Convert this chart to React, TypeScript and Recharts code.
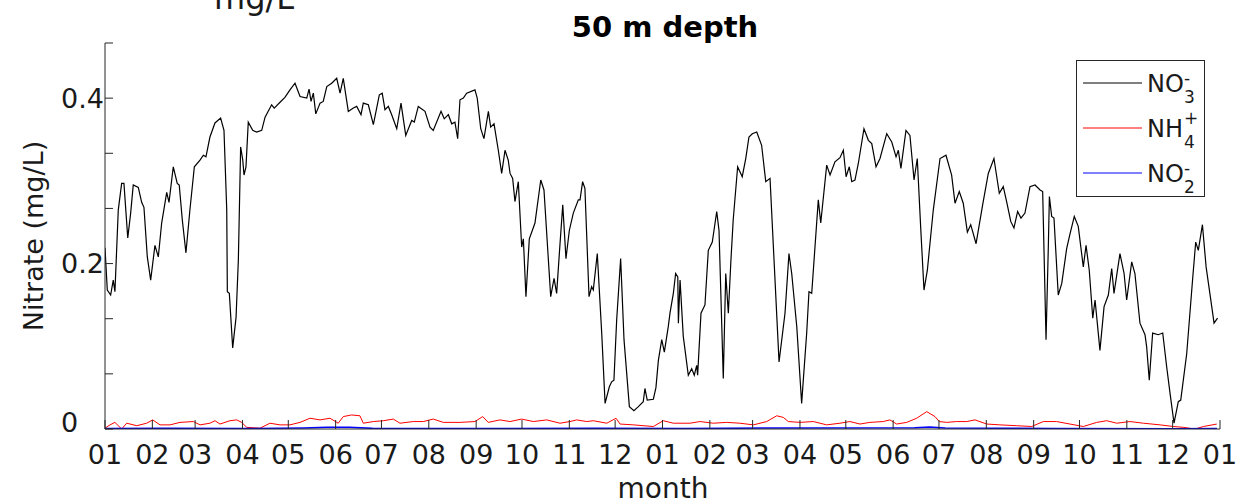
import React from 'react';
import { LineChart, Line, XAxis, YAxis } from 'recharts';

// two years of daily data, ticks at the first day of each month
const monthLabels = ['01', '02', '03', '04', '05', '06', '07', '08', '09', '10', '11', '12'];
const monthLengths = [31, 28, 31, 30, 31, 30, 31, 31, 30, 31, 30, 31];
const yTicks = [0, 1 / 15, 2 / 15, 3 / 15, 4 / 15, 5 / 15, 6 / 15, 7 / 15];

// [day, mg/L]
const no3Points: [number, number][] = [
  [0, 0.219], [1.5, 0.168], [3.7, 0.162], [5.4, 0.18], [6.5, 0.166], [8.7, 0.265], [10.9, 0.297], [12.4, 0.297],
  [14.9, 0.231], [16.8, 0.261], [18.5, 0.295], [21.8, 0.292], [24, 0.274], [25.5, 0.268], [27.7, 0.208], [29.9, 0.18],
  [32.7, 0.222], [34.9, 0.208], [37.1, 0.249], [40.4, 0.286], [41.9, 0.274], [44.7, 0.317], [47.3, 0.297], [48.6, 0.295],
  [50.6, 0.253], [53, 0.213], [55.6, 0.265], [58.5, 0.317], [62.2, 0.325], [64.4, 0.331], [66.1, 0.329], [68.7, 0.353],
  [72, 0.37], [75.7, 0.376], [77.9, 0.361], [79.7, 0.265], [80.1, 0.166], [81.4, 0.164], [83.6, 0.098], [85.8, 0.135],
  [87.3, 0.204], [88.8, 0.341], [90.2, 0.325], [91, 0.307], [92.3, 0.317], [93.8, 0.371], [96.7, 0.361], [99.3, 0.359],
  [102.6, 0.361], [104.8, 0.377], [109.1, 0.392], [110.8, 0.388], [114.6, 0.395], [117.8, 0.401], [121.1, 0.41], [124.4, 0.418],
  [127.7, 0.402], [132.1, 0.4], [133.6, 0.411], [134.9, 0.396], [136.4, 0.406], [138, 0.381], [140.8, 0.394], [142.9, 0.396],
  [145.2, 0.414], [148.4, 0.418], [151.7, 0.424], [153.9, 0.406], [156, 0.424], [159.3, 0.384], [162.6, 0.388], [164.8, 0.39],
  [167.6, 0.38], [169.1, 0.394], [172.4, 0.392], [175.7, 0.368], [179.6, 0.404], [181.5, 0.406], [183.3, 0.386], [185.5, 0.39],
  [187.7, 0.38], [191, 0.363], [193.8, 0.394], [196.9, 0.355], [200.8, 0.373], [202.5, 0.371], [205.1, 0.39], [209.5, 0.384],
  [212.8, 0.365], [214.9, 0.361], [220, 0.384], [222.1, 0.375], [224.8, 0.38], [227, 0.369], [229.1, 0.371], [230.9, 0.351],
  [232.4, 0.398], [234.6, 0.4], [236.8, 0.406], [242.2, 0.41], [243.7, 0.4], [246, 0.363], [248.1, 0.351], [251, 0.384],
  [252.5, 0.365], [254.7, 0.369], [257.5, 0.337], [259.7, 0.309], [261.9, 0.337], [264, 0.325], [265.2, 0.309], [266.9, 0.303],
  [268.4, 0.275], [270.6, 0.299], [272.8, 0.22], [273.9, 0.23], [275.6, 0.16], [277.8, 0.23], [281.5, 0.249], [285.3, 0.301],
  [287.4, 0.289], [291.8, 0.16], [294, 0.182], [295.7, 0.164], [297.9, 0.224], [299.7, 0.271], [301.8, 0.206], [304, 0.24],
  [306.6, 0.261], [309.9, 0.277], [311, 0.277], [312.7, 0.299], [314.2, 0.291], [316.9, 0.16], [318.6, 0.172], [319.7, 0.168],
  [322.3, 0.212], [325.2, 0.116], [327.4, 0.031], [330.2, 0.051], [331.7, 0.057], [333.2, 0.059], [335, 0.132], [337.6, 0.206],
  [339.8, 0.108], [343.3, 0.027], [346.3, 0.022], [349.2, 0.027], [352.4, 0.033], [353.5, 0.049], [355, 0.035], [359, 0.036],
  [360.7, 0.05], [362.3, 0.083], [364.5, 0.108], [366.2, 0.093], [368.8, 0.124], [369.9, 0.14], [372.1, 0.164], [373.6, 0.188],
  [375, 0.184], [375.4, 0.128], [376.5, 0.18], [378.6, 0.112], [381.9, 0.065], [384.1, 0.073], [385.8, 0.065], [387.4, 0.077],
  [388, 0.065], [390.2, 0.14], [392.8, 0.15], [395, 0.216], [397.6, 0.226], [400.5, 0.263], [402, 0.24], [404.8, 0.061],
  [406.4, 0.188], [408.1, 0.14], [409.8, 0.204], [411.3, 0.253], [414.2, 0.317], [417.2, 0.305], [419.5, 0.327], [421.6, 0.353],
  [423.8, 0.357], [426.7, 0.359], [429.9, 0.343], [432.6, 0.299], [435.4, 0.303], [441.3, 0.081], [445.2, 0.14], [447.8, 0.212],
  [449.6, 0.188], [452.9, 0.124], [456.1, 0.031], [459.4, 0.116], [460.9, 0.166], [462.7, 0.164], [467, 0.277], [468.6, 0.249],
  [472.5, 0.319], [474.7, 0.307], [477.9, 0.323], [481.2, 0.328], [483.4, 0.337], [485.2, 0.305], [487.3, 0.317], [488.9, 0.299],
  [491, 0.301], [493.2, 0.321], [496.9, 0.363], [499.8, 0.349], [502, 0.345], [504.8, 0.317], [507.4, 0.327], [511.8, 0.357],
  [515.1, 0.347], [517.9, 0.329], [519.4, 0.337], [521.1, 0.315], [524.4, 0.361], [527, 0.355], [529.7, 0.301], [531.8, 0.327],
  [534, 0.245], [536.2, 0.168], [538.4, 0.192], [542.3, 0.265], [546.7, 0.327], [550.6, 0.331], [554.3, 0.307], [556.5, 0.273],
  [559.3, 0.287], [561.9, 0.273], [564.6, 0.238], [566.8, 0.247], [570.3, 0.224], [574.6, 0.271], [578.3, 0.309], [582, 0.327],
  [585.5, 0.285], [588.1, 0.293], [590.3, 0.275], [593, 0.251], [595.1, 0.243], [597.5, 0.263], [599.7, 0.255], [602.3, 0.261],
  [605.6, 0.293], [608.9, 0.295], [612.2, 0.289], [613.9, 0.287], [616.1, 0.108], [617.6, 0.22], [618.3, 0.281], [619.8, 0.257],
  [621.3, 0.255], [624.1, 0.162], [626.4, 0.176], [629.6, 0.218], [631.8, 0.236], [634.6, 0.257], [637.2, 0.245], [640.5, 0.196],
  [642.3, 0.222], [644.4, 0.192], [646.7, 0.134], [648.2, 0.156], [651.4, 0.095], [654.1, 0.148], [656.9, 0.162], [659.1, 0.194],
  [660.6, 0.164], [664.5, 0.212], [667.2, 0.188], [668.9, 0.156], [672.2, 0.202], [674.3, 0.188], [677.6, 0.128], [680.9, 0.114],
  [682, 0.099], [683.7, 0.059], [685.9, 0.116], [689.6, 0.114], [692.5, 0.116], [695.1, 0.075], [697.3, 0.043], [699.9, 0.007],
  [702.7, 0.033], [704.3, 0.035], [708.2, 0.091], [712.2, 0.184], [714.1, 0.226], [715.8, 0.216], [718.5, 0.247], [720.9, 0.196],
  [724.6, 0.148], [726.1, 0.128], [728.4, 0.134],
];

const nh4Points: [number, number][] = [
  [0, 0.001], [3.3, 0.005], [6.5, 0.008], [10.9, 0.0], [14.2, 0.007], [20.8, 0.004], [27.3, 0.007], [31.2, 0.011],
  [36, 0.005], [42.6, 0.005], [49.1, 0.008], [57.8, 0.009], [62.2, 0.005], [68.7, 0.007], [72, 0.01], [75.3, 0.006],
  [81.8, 0.01], [86.2, 0.011], [89.5, 0.008], [92.8, 0.002], [101.5, 0.001], [108, 0.007], [114.6, 0.005], [121.1, 0.005],
  [127.7, 0.008], [134.2, 0.013], [140.8, 0.011], [147.3, 0.013], [152.7, 0.007], [156, 0.015], [161.5, 0.017], [166.9, 0.016],
  [169.1, 0.007], [175.7, 0.009], [182.2, 0.01], [188.8, 0.012], [193.1, 0.007], [201.8, 0.009], [208.4, 0.009], [214.9, 0.012],
  [221.5, 0.008], [232.4, 0.008], [242.2, 0.009], [247.3, 0.015], [250.9, 0.008], [258.6, 0.011], [265.2, 0.009], [272.8, 0.012],
  [280.4, 0.009], [289.2, 0.011], [297.9, 0.007], [304.4, 0.009], [308.8, 0.011], [315.4, 0.009], [319.7, 0.01], [328.5, 0.007],
  [334.6, 0.013], [337.2, 0.006], [345.9, 0.005], [359, 0.003], [365.5, 0.01], [372.1, 0.007], [383, 0.007], [389.6, 0.009],
  [398.3, 0.007], [407, 0.008], [415.7, 0.007], [424.5, 0.005], [433.2, 0.009], [439.8, 0.016], [444.1, 0.014], [447.4, 0.009],
  [455, 0.008], [463.7, 0.009], [472.5, 0.005], [481.2, 0.007], [487.7, 0.009], [494.3, 0.006], [500.8, 0.008], [509.5, 0.009],
  [513.9, 0.011], [518.3, 0.006], [524.9, 0.008], [531.4, 0.013], [538, 0.021], [543.4, 0.015], [546.2, 0.009], [551.1, 0.008],
  [557.6, 0.009], [564.2, 0.009], [569.6, 0.011], [577.3, 0.006], [585.9, 0.005], [596.9, 0.004], [606.7, 0.003], [614.3, 0.009],
  [623, 0.009], [631.8, 0.006], [640.5, 0.003], [649.3, 0.008], [655.8, 0.01], [662.4, 0.007], [671.1, 0.009], [679.8, 0.007],
  [690.8, 0.005], [699.5, 0.003], [706, 0.002], [713.7, 0.0], [719.1, 0.003], [727.9, 0.006],
];

const no2Points: [number, number][] = [
  [0, 0.0005], [40, 0.0008], [90, 0.0006], [130, 0.0012], [145, 0.002], [160, 0.0022], [175, 0.0008], [240, 0.0006],
  [320, 0.0008], [380, 0.0005], [440, 0.0012], [530, 0.0015], [540, 0.0025], [550, 0.0012], [620, 0.0006], [700, 0.0004],
  [728, 0.0005],
];

const SERIES = [
  { key: 'no3', points: no3Points, color: '#000000', width: 1.2, base: 'NO', sup: '-', sub: '3', supDy: 1 },
  { key: 'nh4', points: nh4Points, color: '#ff0000', width: 1, base: 'NH', sup: '+', sub: '4', supDy: -4 },
  { key: 'no2', points: no2Points, color: '#0000ff', width: 1.5, base: 'NO', sup: '-', sub: '2', supDy: 1 },
];

const monthTicks: number[] = [];
const tickLabel = new Map<number, string>();
{
  let day = 0;
  for (let i = 0; i <= 24; i++) {
    monthTicks.push(day);
    tickLabel.set(day, monthLabels[i % 12]);
    if (i < 24) day += monthLengths[i % 12];
  }
}
const lastDay = monthTicks[monthTicks.length - 1];

const AXIS = '#262626';
const FONT = '"DejaVu Sans", sans-serif';

const XTick = ({ x, y, payload }: any) => (
  <g>
    <line x1={x} x2={x} y1={y} y2={y - 9} stroke={AXIS} strokeWidth={1} />
    <text x={x} y={y + 35} textAnchor="middle" fontSize={27} fill="#1a1a1a" fontFamily={FONT}>
      {tickLabel.get(payload.value) ?? ''}
    </text>
  </g>
);

// labels are left aligned, like the original figure
const YTick = ({ x, y, payload }: any) => {
  const v = payload.value as number;
  const labeled = Math.abs(v * 5 - Math.round(v * 5)) < 1e-6;
  return (
    <g>
      <line x1={x} x2={x + 8} y1={y} y2={y} stroke={AXIS} strokeWidth={1} />
      {labeled && (
        <text x={x - 44} y={v === 0 ? y - 7 : y} dy="0.36em" textAnchor="start" fontSize={27} fill="#1a1a1a" fontFamily={FONT}>
          {v === 0 ? '0' : v.toFixed(1)}
        </text>
      )}
    </g>
  );
};

const LegendBox = () => (
  <svg width={131} height={139} style={{ position: 'absolute', left: 1075, top: 59 }}>
    <rect x={1.5} y={1.5} width={128} height={136} fill="#fff" stroke={AXIS} strokeWidth={1} />
    {SERIES.map((s, i) => {
      const cy = 24 + i * 45;
      return (
        <g key={s.key} fontFamily={FONT} fill="#1a1a1a">
          <line x1={8} x2={67} y1={cy} y2={cy} stroke={s.color} strokeWidth={1} />
          <text x={72} y={cy + 9} fontSize={24}>{s.base}</text>
          <text x={109} y={cy + s.supDy} fontSize={17}>{s.sup}</text>
          <text x={109} y={cy + 20} fontSize={17}>{s.sub}</text>
        </g>
      );
    })}
  </svg>
);

export default function App() {
  return (
    <div style={{ position: 'absolute', left: 0, top: 0, width: 1245, height: 504, background: '#fff', overflow: 'hidden' }}>
      <LineChart width={1245} height={504} margin={{ top: 43, right: 25, bottom: 0, left: 45 }}>
        <XAxis
          dataKey="day"
          type="number"
          domain={[0, lastDay]}
          ticks={monthTicks}
          interval={0}
          allowDataOverflow
          height={75}
          tickSize={0}
          tickMargin={0}
          axisLine={{ stroke: AXIS }}
          tickLine={false}
          tick={<XTick />}
        />
        <YAxis
          type="number"
          domain={[0, 7 / 15]}
          ticks={yTicks}
          interval={0}
          allowDataOverflow
          width={60}
          tickSize={0}
          tickMargin={0}
          axisLine={{ stroke: AXIS }}
          tickLine={false}
          tick={<YTick />}
        />
        {SERIES.map((s) => (
          <Line
            key={s.key}
            data={s.points.map(([day, v]) => ({ day, v }))}
            dataKey="v"
            type="linear"
            stroke={s.color}
            strokeWidth={s.width}
            dot={false}
            activeDot={false}
            isAnimationActive={false}
          />
        ))}
      </LineChart>
      <svg width={1245} height={504} style={{ position: 'absolute', left: 0, top: 0, pointerEvents: 'none' }}>
        <g fontFamily={FONT} fill="#1a1a1a">
          <text x={214} y={9} fontSize={32}>mg/L</text>
          <text x={665} y={37} textAnchor="middle" fontSize={29} fontWeight="bold" fill="#000">50 m depth</text>
          <text x={663} y={498} textAnchor="middle" fontSize={28}>month</text>
          <text x={43} y={236} textAnchor="middle" fontSize={27} transform="rotate(-90 43 236)">Nitrate (mg/L)</text>
        </g>
      </svg>
      <LegendBox />
    </div>
  );
}
